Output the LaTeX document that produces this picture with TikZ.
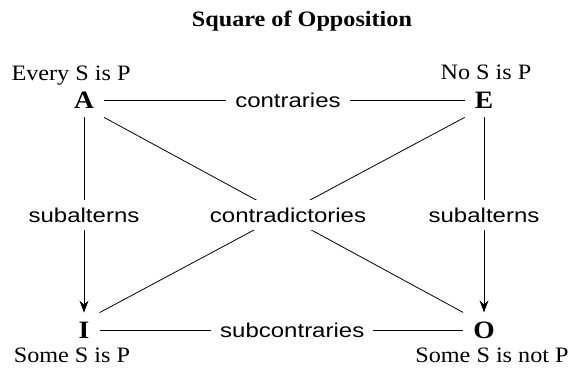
\documentclass[tikz,border=0pt]{standalone}
\usepackage{fontspec}
\setmainfont{Liberation Serif}[FakeStretch=1.1]
\setsansfont{Liberation Sans}[FakeStretch=1.2]
\usetikzlibrary{arrows.meta}
\tikzset{
   vertex/.style={font=\fontsize{25}{28}\selectfont\bfseries, inner xsep=10pt, inner ysep=9pt},
   statement/.style={font=\fontsize{22}{24}\selectfont, anchor=base, inner sep=0pt},
   relation/.style={font=\sffamily\fontsize{20}{22}\selectfont, fill=white, inner xsep=9pt, inner ysep=8pt},
   edge/.style={line width=0.8pt},
   subarrow/.style={edge, -{Stealth[length=12pt, width=9pt]}}
}
\begin{document}
\begin{tikzpicture}[x=1pt, y=-1pt]
   \useasboundingbox (0,0) rectangle (577,369);
   % Title
   \node[statement, font=\fontsize{22}{24}\selectfont\bfseries] (title) at (302,27) {Square of Opposition};
   % The four corners
   \node[vertex] (A) at (84,100) {A};
   \node[vertex] (E) at (484,100) {E};
   \node[vertex] (I) at (84,330) {I};
   \node[vertex] (O) at (484,330) {O};
   \node[statement] (sA) at (71,80) {Every S is P};
   \node[statement] (sE) at (486,79) {No S is P};
   \node[statement] (sI) at (72,362) {Some S is P};
   \node[statement] (sO) at (492,362) {Some S is not P};
   % Relations
   \draw[edge] (A.south east) -- (O.north west);
   \draw[edge] (E.south west) -- (I.north east);
   \node[relation] (contra) at (288,215) {contradictories};
   \draw[edge] (A) -- node[relation, pos=0.51] (contrary) {contraries} (E);
   \draw[edge] (I) -- node[relation, pos=0.53] (subcontrary) {subcontraries} (O);
   \draw[subarrow] (A) -- node[relation] (subL) {subalterns} (I);
   \draw[subarrow] (E) -- node[relation] (subR) {subalterns} (O);
\end{tikzpicture}
\end{document}
